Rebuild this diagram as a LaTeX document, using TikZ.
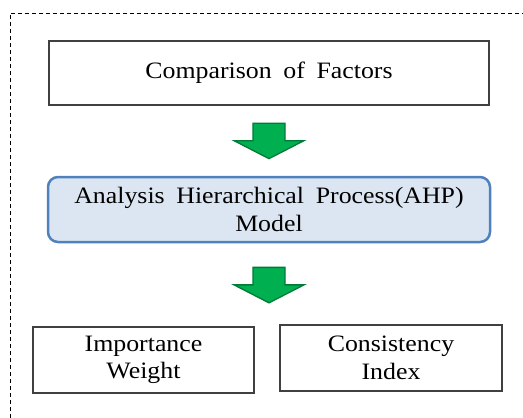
\documentclass[tikz,border=0pt]{standalone}
\usepackage{fontspec}
\setmainfont{Liberation Serif}[FakeStretch=1.1, WordSpace=1.8]
\usetikzlibrary{calc}
\definecolor{boxline}{RGB}{64,64,64}
\definecolor{ahpline}{RGB}{79,129,189}
\definecolor{ahpfill}{RGB}{220,230,242}
\definecolor{arrowfill}{RGB}{0,176,80}
\definecolor{arrowline}{RGB}{0,122,55}
\tikzset{
	plainbox/.style={draw=boxline, line width=1.1pt, align=center, inner sep=0pt},
	ahpbox/.style={draw=ahpline, fill=ahpfill, line width=2.5pt, rounded corners=10pt, align=center, inner sep=0pt},
	greenarrow/.style={draw=arrowline, fill=arrowfill, line width=1.3pt, line join=miter},
}
\def\blockarrow(#1){\draw[greenarrow] ($(#1)+(-16,-17.5)$) -- ($(#1)+(16,-17.5)$) -- ($(#1)+(16,0)$) -- ($(#1)+(35,0)$) -- ($(#1)+(0,18)$) -- ($(#1)+(-35,0)$) -- ($(#1)+(-16,0)$) -- cycle;}

\begin{document}
\begin{tikzpicture}[x=1pt, y=-1pt, font=\fontsize{23.5}{27.5}\selectfont]
		%%%%% START %%%%%
		\useasboundingbox (0, 0) rectangle (523, 418);
		
		\draw[line width=0.9pt, dash pattern=on 4pt off 3pt] (10, 418) -- (10, 13) -- (523, 13);
		
		\node[plainbox, minimum width=440, minimum height=64] (factors) at (269, 73) {Comparison of Factors};
		\node[ahpbox, minimum width=442, minimum height=65] (ahp) at (269, 209.5) {Analysis Hierarchical Process(AHP)\\Model};
		
		\node[plainbox, minimum width=221, minimum height=66] (weight) at (143.5, 360) {Importance\\Weight};
		\node[plainbox, minimum width=222, minimum height=66] (consistency) at (391, 358) {Consistency\\Index};
		
		\coordinate (arrowone) at ($(factors.south)!0.5!(ahp.north)$);
		\coordinate (arrowtwo) at ($(ahp.south)!0.5!(weight.north -| ahp.south)$);
		\blockarrow(arrowone)
		\blockarrow(arrowtwo)
		
		%%%%% END %%%%%
	\end{tikzpicture}
\end{document}
